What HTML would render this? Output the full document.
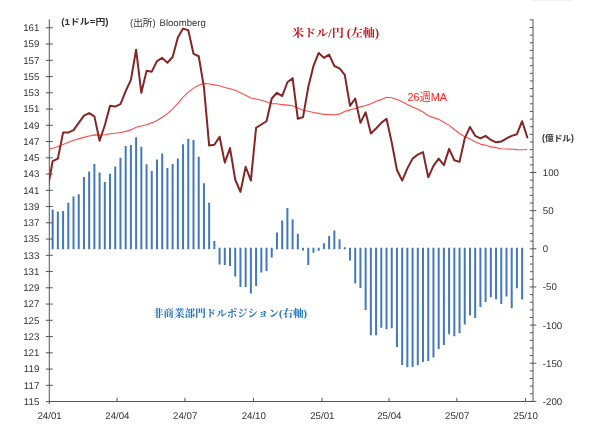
<!DOCTYPE html>
<html><head><meta charset="utf-8"><title>chart</title>
<style>html,body{margin:0;padding:0;background:#fff;}body{width:604px;height:426px;overflow:hidden;position:relative;font-family:"Liberation Sans",sans-serif;}</style>
</head><body>
<div style="position:absolute;left:0;top:0;width:604px;height:426px;will-change:transform">
<svg width="604" height="426" viewBox="0 0 604 426" style="position:absolute;left:0;top:0">
<rect width="604" height="426" fill="#fff"/>
<rect x="532" y="0" width="40" height="1" fill="#f1f1f1"/>
<path d="M52.65 209.6V249.3M57.87 211.4V249.3M63.08 211.0V249.3M68.30 202.8V249.3M73.52 196.6V249.3M78.73 194.2V249.3M83.95 177.0V249.3M89.17 171.6V249.3M94.38 164.0V249.3M99.60 172.6V249.3M104.81 182.0V249.3M110.03 173.8V249.3M115.25 166.6V249.3M120.46 157.8V249.3M125.68 146.0V249.3M130.90 145.0V249.3M136.11 137.2V249.3M141.33 146.8V249.3M146.55 164.2V249.3M151.76 171.0V249.3M156.98 159.6V249.3M162.20 153.4V249.3M167.41 168.0V249.3M172.63 164.0V249.3M177.85 158.6V249.3M183.06 144.2V249.3M188.28 138.8V249.3M193.50 140.0V249.3M198.71 156.8V249.3M203.93 183.2V249.3M209.15 202.7V249.3M214.36 240.9V249.3M219.58 247.8V264.4M224.79 247.8V265.0M230.01 247.8V266.0M235.23 247.8V276.5M240.44 247.8V286.9M245.66 247.8V286.9M250.88 247.8V293.5M256.09 247.8V285.9M261.31 247.8V272.5M266.53 247.8V270.9M271.74 247.8V257.4M276.96 232.5V249.3M282.18 220.4V249.3M287.39 208.0V249.3M292.61 219.4V249.3M297.83 233.7V249.3M303.04 247.8V250.5M308.26 247.8V264.9M313.47 247.8V252.7M318.69 247.8V250.7M323.91 243.3V249.3M329.12 236.1V249.3M334.34 230.5V249.3M339.56 239.3V249.3M344.77 247.3V249.3M349.99 247.8V260.5M355.21 247.8V283.4M360.42 247.8V288.0M365.64 247.8V310.1M370.86 247.8V335.3M376.07 247.8V335.3M381.29 247.8V327.7M386.51 247.8V329.2M391.72 247.8V328.3M396.94 247.8V346.9M402.16 247.8V364.9M407.37 247.8V367.3M412.59 247.8V366.9M417.80 247.8V365.3M423.02 247.8V361.9M428.24 247.8V360.9M433.45 247.8V357.5M438.67 247.8V348.9M443.89 247.8V344.9M449.10 247.8V334.3M454.32 247.8V336.3M459.54 247.8V333.3M464.75 247.8V324.4M469.97 247.8V315.5M475.19 247.8V318.0M480.40 247.8V307.0M485.62 247.8V302.0M490.84 247.8V297.2M496.05 247.8V299.3M501.27 247.8V303.9M506.49 247.8V296.5M511.70 247.8V308.3M516.92 247.8V288.3M522.13 247.8V299.5" stroke="#4379bc" stroke-width="2.0" fill="none"/>
<path d="M49.3 19.4V404.1M533.0 19.4V401.5M49.3 401.5H533.0M45.8 401.55H52.8M45.8 385.30H52.8M45.8 369.05H52.8M45.8 352.80H52.8M45.8 336.55H52.8M45.8 320.30H52.8M45.8 304.05H52.8M45.8 287.80H52.8M45.8 271.55H52.8M45.8 255.30H52.8M45.8 239.05H52.8M45.8 222.80H52.8M45.8 206.55H52.8M45.8 190.30H52.8M45.8 174.05H52.8M45.8 157.80H52.8M45.8 141.55H52.8M45.8 125.30H52.8M45.8 109.05H52.8M45.8 92.80H52.8M45.8 76.55H52.8M45.8 60.30H52.8M45.8 44.05H52.8M45.8 27.80H52.8M529.8 401.40H536.3M530.0 393.77H533.0M530.0 386.14H533.0M530.0 378.51H533.0M530.0 370.88H533.0M529.8 363.25H536.3M530.0 355.62H533.0M530.0 347.99H533.0M530.0 340.36H533.0M530.0 332.73H533.0M529.8 325.10H536.3M530.0 317.47H533.0M530.0 309.84H533.0M530.0 302.21H533.0M530.0 294.58H533.0M529.8 286.95H536.3M530.0 279.32H533.0M530.0 271.69H533.0M530.0 264.06H533.0M530.0 256.43H533.0M529.8 248.80H536.3M530.0 241.17H533.0M530.0 233.54H533.0M530.0 225.91H533.0M530.0 218.28H533.0M529.8 210.65H536.3M530.0 203.02H533.0M530.0 195.39H533.0M530.0 187.76H533.0M530.0 180.13H533.0M529.8 172.50H536.3M530.0 164.87H533.0M530.0 157.24H533.0M530.0 149.61H533.0M530.0 141.98H533.0M529.7 134.35H533.0M530.0 126.72H533.0M530.0 119.09H533.0M530.0 111.46H533.0M530.0 103.83H533.0M529.7 96.20H533.0M530.0 88.57H533.0M530.0 80.94H533.0M530.0 73.31H533.0M530.0 65.68H533.0M529.7 58.05H533.0M530.0 50.42H533.0M530.0 42.79H533.0M530.0 35.16H533.0M530.0 27.53H533.0M529.7 19.90H533.0M117.10 401.5V397.8M184.91 401.5V397.8M253.46 401.5V397.8M322.01 401.5V397.8M389.07 401.5V397.8M456.87 401.5V397.8M525.42 401.5V397.8" stroke="#555" stroke-width="1" fill="none"/>
<clipPath id="c"><rect x="49.3" y="0" width="483.7" height="426"/></clipPath>
<polyline points="47.43,149.11 52.65,148.33 57.87,146.42 63.08,144.46 68.30,142.30 73.52,140.24 78.73,138.86 83.95,137.36 89.17,136.08 94.38,134.86 99.60,135.08 104.81,134.74 110.03,133.80 115.25,133.21 120.46,132.49 125.68,131.36 130.90,129.89 136.11,127.21 141.33,126.08 146.55,124.77 151.76,122.89 156.98,120.55 162.20,117.27 167.41,113.58 172.63,108.83 177.85,103.39 183.06,97.18 188.28,92.14 193.50,88.11 198.71,85.17 203.93,83.42 209.15,84.02 214.36,84.86 219.58,85.67 224.79,87.58 230.01,88.80 235.23,90.30 240.44,92.86 245.66,95.21 250.88,98.05 256.09,98.96 261.31,100.24 266.53,101.83 271.74,103.71 276.96,103.71 282.18,104.67 287.39,105.08 292.61,105.74 297.83,108.08 303.04,110.18 308.26,111.33 313.47,112.43 318.69,113.36 323.91,114.42 329.12,114.46 334.34,114.83 339.56,114.11 344.77,111.39 349.99,109.89 355.21,108.43 360.42,106.89 365.64,105.52 370.86,103.74 376.07,101.30 381.29,99.61 386.51,97.24 391.72,97.80 396.94,99.55 402.16,101.83 407.37,104.52 412.59,107.05 417.80,109.30 423.02,111.99 428.24,115.80 433.45,117.61 438.67,119.21 443.89,122.21 449.10,125.39 454.32,129.52 459.54,133.52 464.75,136.74 469.97,139.08 475.19,141.68 480.40,144.11 485.62,145.27 490.84,146.86 496.05,147.61 501.27,148.74 506.49,148.93 511.70,149.21 516.92,149.64 522.13,149.74 527.35,149.55" fill="none" stroke="#ff4b4b" stroke-width="1.1" stroke-linejoin="round" clip-path="url(#c)"/>
<polyline points="47.43,190.30 52.65,161.05 57.87,158.61 63.08,132.61 68.30,132.61 73.52,130.17 78.73,122.86 83.95,115.55 89.17,113.11 94.38,116.36 99.60,140.74 104.81,125.30 110.03,105.80 115.25,106.61 120.46,104.18 125.68,91.18 130.90,79.80 136.11,49.74 141.33,92.80 146.55,70.86 151.76,71.68 156.98,61.11 162.20,57.86 167.41,62.74 172.63,57.05 177.85,37.55 183.06,28.61 188.28,30.24 193.50,53.80 198.71,56.24 203.93,87.11 209.15,145.61 214.36,144.80 219.58,136.68 224.79,162.67 230.01,148.05 235.23,179.74 240.44,191.92 245.66,166.74 250.88,180.55 256.09,127.74 261.31,124.49 266.53,121.24 271.74,98.49 276.96,92.80 282.18,96.05 287.39,82.24 292.61,78.17 297.83,118.80 303.04,117.17 308.26,87.11 313.47,65.99 318.69,52.99 323.91,57.86 329.12,54.61 334.34,65.99 339.56,68.42 344.77,74.93 349.99,105.80 355.21,98.49 360.42,122.86 365.64,112.30 370.86,133.43 376.07,128.55 381.29,122.86 386.51,118.80 391.72,142.36 396.94,169.99 402.16,180.55 407.37,168.36 412.59,158.61 417.80,154.55 423.02,152.11 428.24,177.30 433.45,165.93 438.67,158.61 443.89,165.11 449.10,148.86 454.32,160.24 459.54,161.86 464.75,138.30 469.97,126.92 475.19,135.86 480.40,138.30 485.62,135.86 490.84,139.93 496.05,142.36 501.27,141.55 506.49,138.30 511.70,135.86 516.92,134.24 522.13,121.24 527.35,137.49" fill="none" stroke="#842626" stroke-width="2.0" stroke-linejoin="round" stroke-linecap="round" clip-path="url(#c)"/>
<g font-family="'Liberation Sans', sans-serif" font-size="9.7" fill="#333" text-rendering="geometricPrecision"><text x="39.3" y="404.95" text-anchor="end">115</text><text x="39.3" y="388.70" text-anchor="end">117</text><text x="39.3" y="372.45" text-anchor="end">119</text><text x="39.3" y="356.20" text-anchor="end">121</text><text x="39.3" y="339.95" text-anchor="end">123</text><text x="39.3" y="323.70" text-anchor="end">125</text><text x="39.3" y="307.45" text-anchor="end">127</text><text x="39.3" y="291.20" text-anchor="end">129</text><text x="39.3" y="274.95" text-anchor="end">131</text><text x="39.3" y="258.70" text-anchor="end">133</text><text x="39.3" y="242.45" text-anchor="end">135</text><text x="39.3" y="226.20" text-anchor="end">137</text><text x="39.3" y="209.95" text-anchor="end">139</text><text x="39.3" y="193.70" text-anchor="end">141</text><text x="39.3" y="177.45" text-anchor="end">143</text><text x="39.3" y="161.20" text-anchor="end">145</text><text x="39.3" y="144.95" text-anchor="end">147</text><text x="39.3" y="128.70" text-anchor="end">149</text><text x="39.3" y="112.45" text-anchor="end">151</text><text x="39.3" y="96.20" text-anchor="end">153</text><text x="39.3" y="79.95" text-anchor="end">155</text><text x="39.3" y="63.70" text-anchor="end">157</text><text x="39.3" y="47.45" text-anchor="end">159</text><text x="39.3" y="31.20" text-anchor="end">161</text><text x="542.8" y="175.90">100</text><text x="542.8" y="214.05">50</text><text x="542.8" y="252.20">0</text><text x="542.8" y="290.35">-50</text><text x="542.8" y="328.50">-100</text><text x="542.8" y="366.65">-150</text><text x="542.8" y="404.80">-200</text><text x="49.60" y="419.0" text-anchor="middle">24/01</text><text x="117.40" y="419.0" text-anchor="middle">24/04</text><text x="185.21" y="419.0" text-anchor="middle">24/07</text><text x="253.76" y="419.0" text-anchor="middle">24/10</text><text x="322.31" y="419.0" text-anchor="middle">25/01</text><text x="389.37" y="419.0" text-anchor="middle">25/04</text><text x="457.17" y="419.0" text-anchor="middle">25/07</text><text x="525.72" y="419.0" text-anchor="middle">25/10</text><text x="159.5" y="25.9" font-size="9.6">Bloomberg</text></g>
<text x="292" y="36.5" font-family="'Liberation Serif', 'Noto Serif CJK SC', serif" font-size="11.5" font-weight="bold" fill="#c0151c" textLength="87" lengthAdjust="spacingAndGlyphs">米ドル/円 (左軸)</text>
<text x="153" y="317" font-family="'Liberation Serif', 'Noto Serif CJK SC', serif" font-size="10" font-weight="bold" fill="#1c6fc0" textLength="154" lengthAdjust="spacingAndGlyphs">非商業部門ドルポジション(右軸)</text>
<text x="407.5" y="100.9" font-family="'Liberation Sans', 'Noto Sans CJK JP', sans-serif" font-size="11.5" fill="#ff2020" textLength="39.6" lengthAdjust="spacingAndGlyphs">26週MA</text>
<text x="61.3" y="25.2" font-family="'Liberation Sans', 'Noto Sans CJK JP', sans-serif" font-size="8.6" font-weight="bold" fill="#333" textLength="47.2" lengthAdjust="spacingAndGlyphs">(1ドル=円)</text>
<text x="130" y="25.6" font-family="'Liberation Sans', 'Noto Sans CJK JP', sans-serif" font-size="9.6" fill="#333" textLength="25.6" lengthAdjust="spacingAndGlyphs">(出所)</text>
<text x="542" y="140.6" font-family="'Liberation Sans', 'Noto Sans CJK JP', sans-serif" font-size="8.4" font-weight="bold" fill="#333" textLength="32" lengthAdjust="spacingAndGlyphs">(億ドル)</text>
</svg>
</div>
</body></html>
